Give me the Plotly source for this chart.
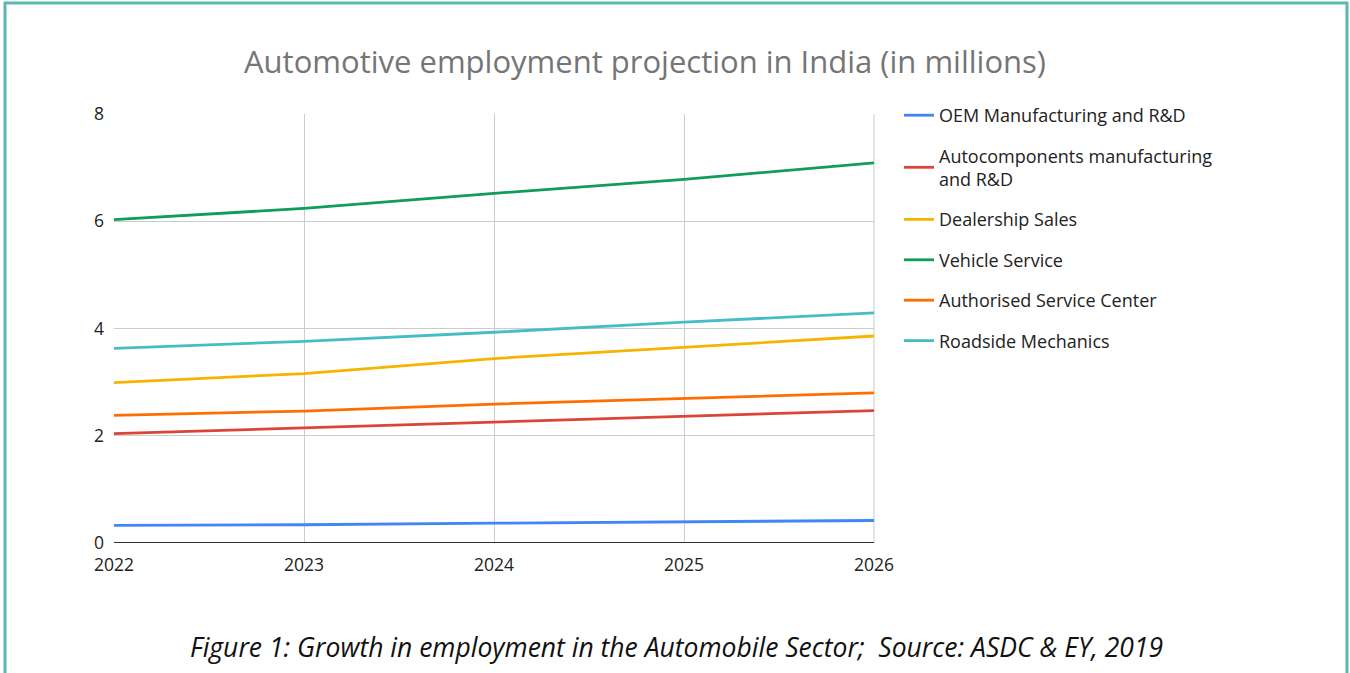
import plotly.graph_objects as go

years = [2022, 2023, 2024, 2025, 2026]
oem = [0.33, 0.34, 0.37, 0.40, 0.42]
autocomp = [2.04, 2.15, 2.26, 2.37, 2.47]
dealership = [2.99, 3.16, 3.44, 3.65, 3.86]
vehicle_service = [6.03, 6.24, 6.52, 6.78, 7.09]
authorised = [2.38, 2.46, 2.59, 2.69, 2.80]
roadside = [3.63, 3.76, 3.93, 4.12, 4.29]

series_names = [
    "OEM Manufacturing and R&D",
    "Autocomponents manufacturing<br>and R&D",
    "Dealership Sales",
    "Vehicle Service",
    "Authorised Service Center",
    "Roadside Mechanics",
]
series_values = [oem, autocomp, dealership, vehicle_service, authorised, roadside]
colors = ["#4285F4", "#DB4437", "#F4B400", "#0F9D58", "#FF6D01", "#46BDC6"]

W, H = 1350, 673
L, T = 114, 114
R = W - 874
B = H - 543
pw, ph = W - L - R, H - T - B

fig = go.Figure()
for i, (name, vals, c) in enumerate(zip(series_names, series_values, colors)):
    fig.add_trace(go.Scatter(
        x=years, y=vals, mode="lines", name=name,
        line=dict(color=c, width=2.8), legendgroup=f"g{i}",
    ))

def px_x(px):
    return (px - L) / pw

def px_y(py):
    return (H - B - py) / ph

fig.update_layout(
    width=W, height=H,
    margin=dict(l=L, r=R, t=T, b=B),
    paper_bgcolor="white", plot_bgcolor="white",
    font=dict(family="Open Sans, Noto Sans, sans-serif", size=17, color="#222222"),
    title=dict(text="Automotive employment projection in India (in millions)",
               x=645 / W, xanchor="center", y=1 - 62 / H, yanchor="middle",
               font=dict(size=31, color="#757575", family="Open Sans, Noto Sans, sans-serif")),
    xaxis=dict(range=[2022, 2026], tickvals=years, ticktext=[str(y) for y in years],
               showgrid=True, gridcolor="#cccccc", gridwidth=1, zeroline=False,
               showline=False, ticks="", ticklabelstandoff=9,
               tickfont=dict(size=17.5, color="#222222")),
    yaxis=dict(range=[0, 8], tickvals=[0, 2, 4, 6, 8], showgrid=True,
               gridcolor="#cccccc", gridwidth=1, zeroline=False, showline=False,
               ticks="", ticklabelstandoff=9, tickfont=dict(size=17.5, color="#222222")),
    legend=dict(x=px_x(899), xanchor="left", y=px_y(97), yanchor="top",
                font=dict(size=18, color="#222222"), tracegroupgap=14,
                itemwidth=30, bgcolor="rgba(0,0,0,0)"),
    showlegend=True,
)

# right frame line and baseline of the plot area
fig.add_shape(type="line", xref="paper", yref="paper", x0=1, x1=1, y0=0, y1=1,
              line=dict(color="#cccccc", width=1), layer="below")
fig.add_shape(type="line", xref="x", yref="y", x0=2022, x1=2026, y0=0, y1=0,
              line=dict(color="#333333", width=2))

# page border
fig.add_shape(type="rect", xref="paper", yref="paper",
              x0=px_x(5), x1=px_x(1347), y0=px_y(690), y1=px_y(3),
              line=dict(color="#5BB8B0", width=3), fillcolor="rgba(0,0,0,0)")

fig.add_annotation(
    text="<i>Figure 1: Growth in employment in the Automobile Sector;  Source: ASDC & EY, 2019</i>",
    xref="paper", yref="paper", x=px_x(676), y=px_y(647), xanchor="center", yanchor="middle",
    showarrow=False, font=dict(size=26.5, color="#111111", family="Open Sans, sans-serif"),
)

fig.write_html("out.html", config={"displayModeBar": False},
               post_script="document.body.style.margin='0';document.body.style.overflow='hidden';")
